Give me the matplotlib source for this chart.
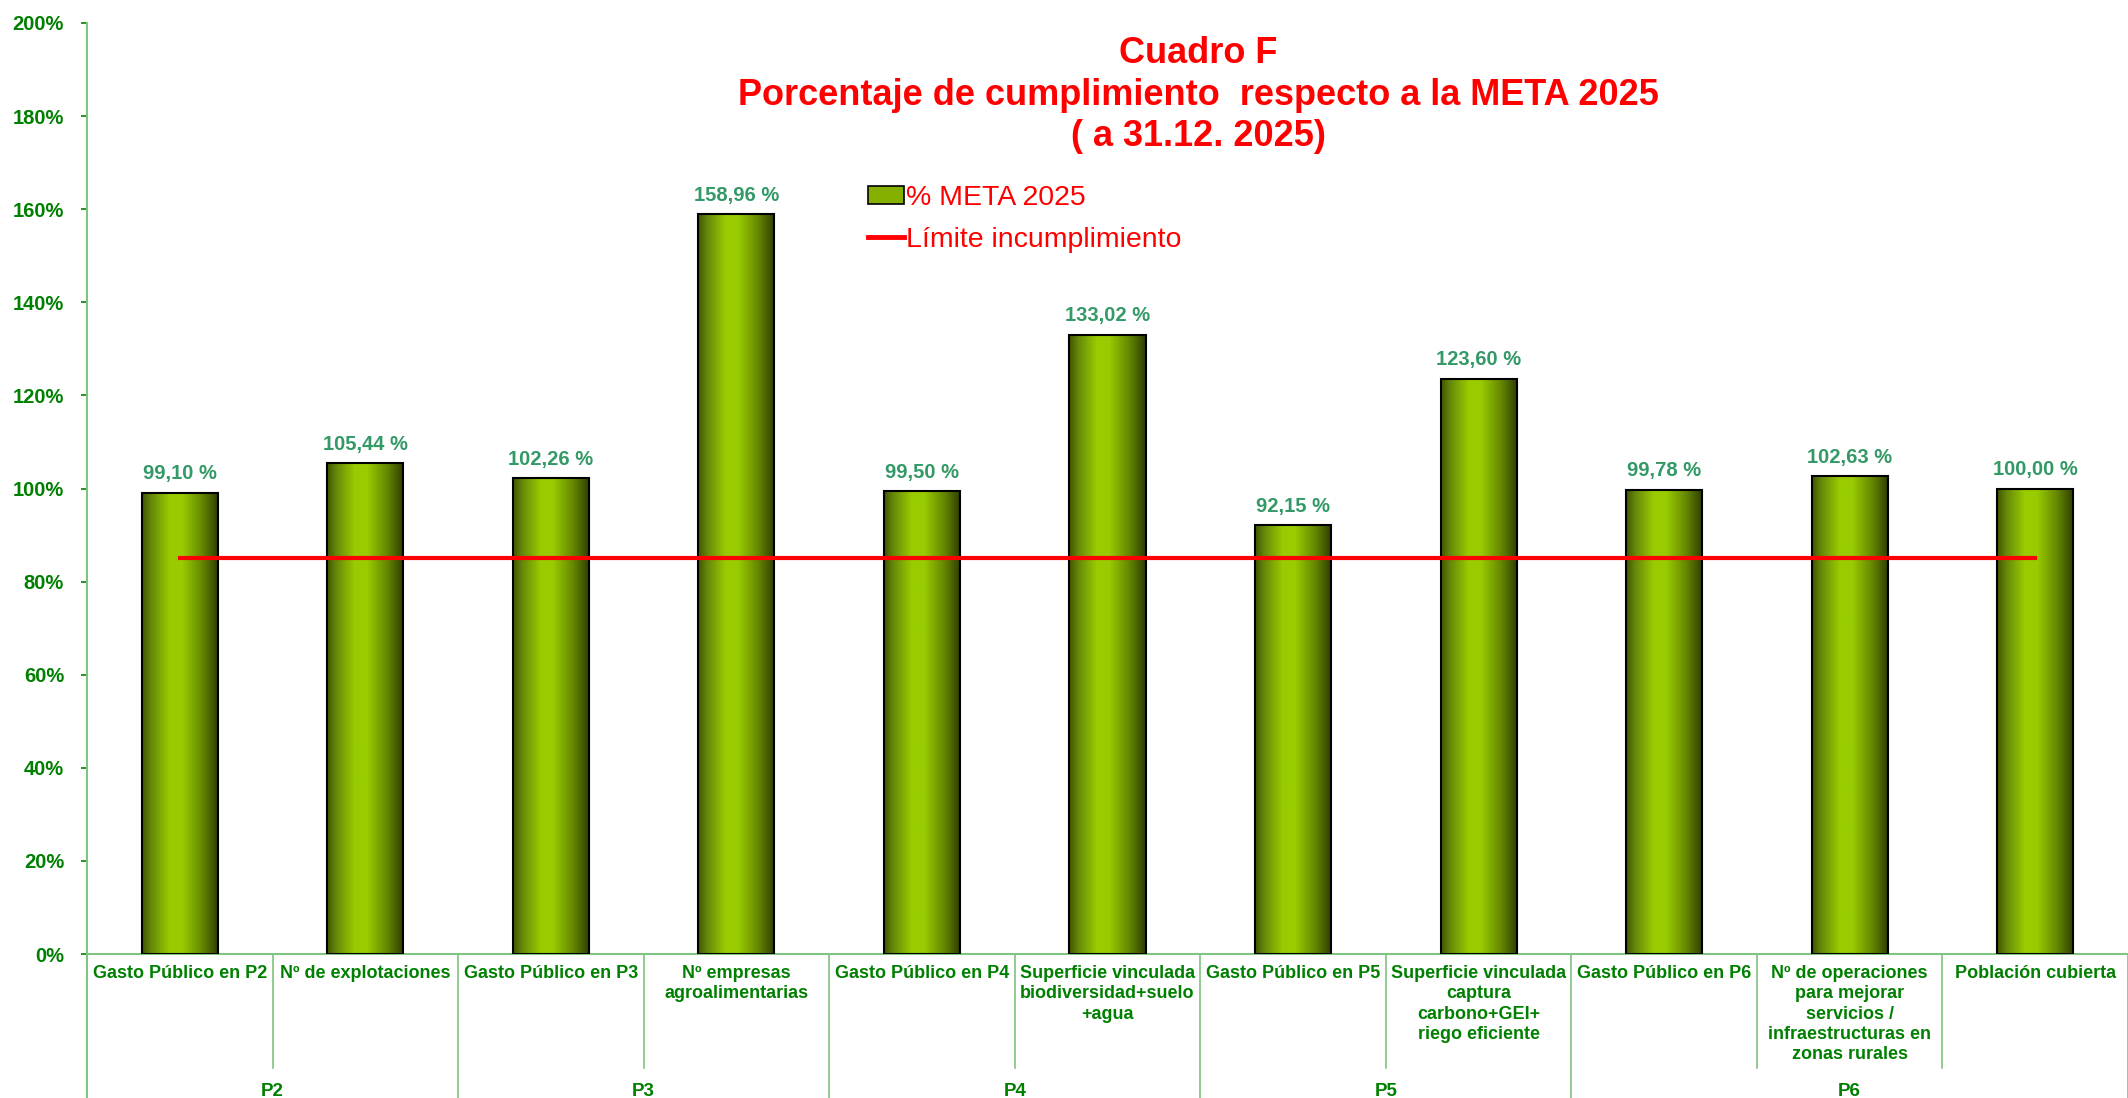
import numpy as np
import matplotlib
matplotlib.use("Agg")
import matplotlib.pyplot as plt
from matplotlib.colors import LinearSegmentedColormap
from matplotlib.patches import Patch
from matplotlib.lines import Line2D
from matplotlib.ticker import FuncFormatter

# Datos del cuadro F
categorias = [
    "Gasto Público en P2",
    "Nº de explotaciones",
    "Gasto Público en P3",
    "Nº empresas\nagroalimentarias",
    "Gasto Público en P4",
    "Superficie vinculada\nbiodiversidad+suelo\n+agua",
    "Gasto Público en P5",
    "Superficie vinculada\ncaptura\ncarbono+GEI+\nriego eficiente",
    "Gasto Público en P6",
    "Nº de operaciones\npara mejorar\nservicios /\ninfraestructuras en\nzonas rurales",
    "Población cubierta",
]
meta_2025 = [99.10, 105.44, 102.26, 158.96, 99.50, 133.02, 92.15, 123.60, 99.78, 102.63, 100.00]
limite = [85] * len(categorias)
grupos = ["P2", "P3", "P4", "P5", "P6"]
grupo_n = [2, 2, 2, 2, 3]

plt.rcParams['font.family'] = ['Liberation Sans', 'DejaVu Sans']

VERDE = '#008000'
EJE = '#7fc47f'

W, H = 2128, 1098
fig = plt.figure(figsize=(W / 100, H / 100), dpi=100)
ax = fig.add_axes([87 / W, 1 - 954 / H, 1 - 87 / W, (954 - 23) / H])

x = np.arange(len(categorias))
ancho = 0.41

# degradado tipo cilindro
cmap = LinearSegmentedColormap.from_list('cil', [
    (0.0, '#3f5500'), (0.12, '#66880a'), (0.36, '#99cc00'),
    (0.52, '#99cc00'), (0.78, '#668800'), (1.0, '#2c3c00')])
grad = np.linspace(0, 1, 256).reshape(1, -1)

barras = ax.bar(x, meta_2025, width=ancho, facecolor='none',
                edgecolor='black', linewidth=1.5, zorder=3)
for b in barras:
    x0, w, h = b.get_x(), b.get_width(), b.get_height()
    ax.imshow(grad, cmap=cmap, aspect='auto', extent=(x0, x0 + w, 0, h),
              zorder=2, interpolation='bicubic')
    ax.text(x0 + w / 2, h + 2, f"{h:.2f} %".replace('.', ','),
            ha='center', va='bottom', fontsize=14.5, fontweight='bold',
            color='#339966')

ax.plot(x, limite, color='red', linewidth=3, zorder=4)

ax.set_xlim(-0.5, len(categorias) - 0.5)
ax.set_ylim(0, 200)
ax.set_yticks(np.arange(0, 201, 20))
ax.yaxis.set_major_formatter(FuncFormatter(lambda v, p: f"{v:.0f}%"))
ax.tick_params(axis='y', colors=VERDE, labelcolor=VERDE, labelsize=14.5,
               length=4.5, width=1.2, direction='out', pad=12)
for lab in ax.get_yticklabels():
    lab.set_fontweight('bold')
ax.set_xticks([])

for s in ['top', 'right']:
    ax.spines[s].set_visible(False)
for s in ['left', 'bottom']:
    ax.spines[s].set_color(EJE)
    ax.spines[s].set_linewidth(1.5)

# etiquetas de categoría y de grupo bajo el eje
trans = ax.get_xaxis_transform()
fondo = -(H - 954) / 931
corto = -(1068 - 954) / 931
for i, c in enumerate(categorias):
    ax.text(i, -0.012, c, transform=trans, ha='center', va='top',
            fontsize=13, fontweight='bold', color=VERDE, linespacing=1.25)

ax.plot([-0.5, -0.5], [0, fondo], transform=trans, color=EJE, lw=1.5,
        clip_on=False)
ini = 0
for g, n in zip(grupos, grupo_n):
    for k in range(1, n):
        ax.plot([ini + k - 0.5] * 2, [0, corto], transform=trans, color=EJE,
                lw=1.2, clip_on=False)
    fin = ini + n
    ax.plot([fin - 0.5] * 2, [0, fondo], transform=trans, color=EJE, lw=1.2,
            clip_on=False)
    ax.text((ini + fin - 1) / 2, -(1091 - 954) / 931, g, transform=trans,
            ha='center', va='center', fontsize=13.5, fontweight='bold',
            color=VERDE)
    ini = fin

# título
fig.text(1198 / W, 1 - 36 / H,
         "Cuadro F\nPorcentaje de cumplimiento  respecto a la META 2025\n( a 31.12. 2025)",
         ha='center', va='top', fontsize=26, fontweight='bold', color='red',
         linespacing=1.25)

# leyenda
handles = [Patch(facecolor='#86b000', edgecolor='black', linewidth=1.2),
           Line2D([0], [0], color='red', linewidth=3.5)]
leg = fig.legend(handles, ["% META 2025", "Límite incumplimiento"],
                 loc='upper left', bbox_to_anchor=(868 / W, 1 - 185 / H),
                 frameon=False, fontsize=20.5, handlelength=1.25,
                 handleheight=0.6, handletextpad=0.1, labelspacing=0.56,
                 borderpad=0, borderaxespad=0)
for t in leg.get_texts():
    t.set_color('red')

fig.savefig('out.png', dpi=100, facecolor='white')
